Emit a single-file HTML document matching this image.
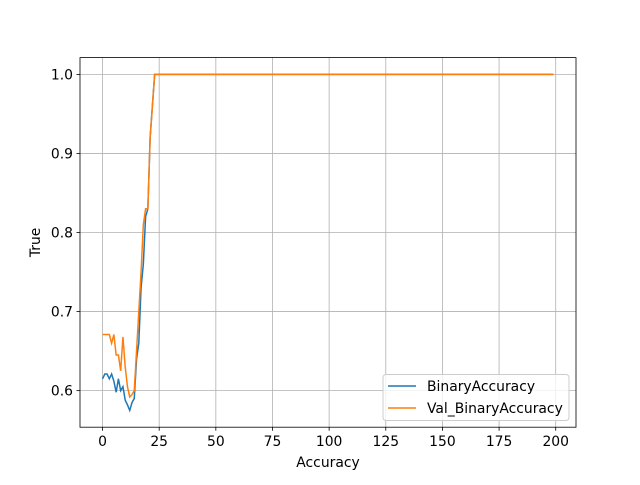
<!DOCTYPE html>
<html><head><meta charset="utf-8"><style>body{margin:0;background:#fff}svg{font-family:"DejaVu Sans","Liberation Sans",sans-serif}</style></head>
<body>
<svg id="chart" width="640" height="480"></svg>
<script>
const blueVals=[0.615,0.621,0.621,0.615,0.621,0.612,0.598,0.615,0.600,0.605,0.588,0.582,0.575,0.585,0.590,0.640,0.660,0.730,0.760,0.820,0.830,0.920,0.960,1.0];
const orangeVals=[0.671,0.671,0.671,0.671,0.660,0.671,0.645,0.645,0.625,0.668,0.630,0.605,0.592,0.595,0.600,0.650,0.700,0.750,0.810,0.830,0.830,0.920,0.960,1.0];
const totalEpochs=200;
const xTicks=[0,25,50,75,100,125,150,175,200];
const yTicks=[0.6,0.7,0.8,0.9,1.0];
const yTickLabels=["0.6","0.7","0.8","0.9","1.0"];
const seriesNames=["BinaryAccuracy","Val_BinaryAccuracy"];
const colors=["#1f77b4","#ff7f0e"];

function full(a){const r=a.slice();while(r.length<totalEpochs)r.push(1.0);return r;}
const series=[full(blueVals),full(orangeVals)];
const L=80,R=576,T=57.6,B=427.2;
const allV=series.flat();
const ymin0=Math.min(...allV),ymax0=Math.max(...allV),ym=(ymax0-ymin0)*0.05;
const xmin=-0.05*(totalEpochs-1),xmax=(totalEpochs-1)*1.05;
const X=v=>L+(v-xmin)/(xmax-xmin)*(R-L);
const Y=v=>B-(v-(ymin0-ym))/((ymax0+ym)-(ymin0-ym))*(B-T);
const svg=document.getElementById('chart');
const NS='http://www.w3.org/2000/svg';
function mk(t,a,p){const e=document.createElementNS(NS,t);for(const k in a)e.setAttribute(k,a[k]);(p||svg).appendChild(e);return e;}
xTicks.forEach(t=>{const x=X(t);
 const g=mk('line',{x1:x,x2:x,y1:T,y2:B,stroke:'#b0b0b0','stroke-width':0.8});
 
 
 mk('line',{x1:x,x2:x,y1:B,y2:B+3.5,stroke:'#000','stroke-width':0.8});
 const tx=mk('text',{x:x,y:B+19,'font-size':13.9,'text-anchor':'middle'});tx.textContent=t;
 
 });
yTicks.forEach((t,i)=>{const y=Y(t);
 const g=mk('line',{x1:L,x2:R,y1:y,y2:y,stroke:'#b0b0b0','stroke-width':0.8});
 
 
 mk('line',{x1:L-3.5,x2:L,y1:y,y2:y,stroke:'#000','stroke-width':0.8});
 const tx=mk('text',{x:L-7,y:y+5,'font-size':13.9,'text-anchor':'end'});tx.textContent=yTickLabels[i];
 
 });
series.forEach((s,i)=>{
 const p=mk('polyline',{points:s.map((v,j)=>X(j)+','+Y(v)).join(' '),fill:'none',stroke:colors[i],'stroke-width':1.5});
 
 });
const fr=mk('rect',{x:L,y:T,width:R-L,height:B-T,fill:'none',stroke:'#000','stroke-width':0.8});


const xl=mk('text',{x:(L+R)/2,y:467,'font-size':13.9,'text-anchor':'middle'});xl.textContent='Accuracy';


const yl=mk('text',{x:0,y:0,'font-size':13.9,'text-anchor':'middle',transform:`translate(40,${(T+B)/2}) rotate(-90)`});yl.textContent='True';


const lg=mk('g',{});


mk('rect',{x:383,y:374.5,width:186,height:46,rx:3,fill:'#fff','fill-opacity':0.8,stroke:'#ccc'},lg);
seriesNames.forEach((n,i)=>{const y=386+i*22;
 mk('line',{x1:388,x2:416,y1:y,y2:y,stroke:colors[i],'stroke-width':1.5},lg);
 const t=mk('text',{x:427,y:y+5,'font-size':13.9},lg);t.textContent=n;
 
 });
</script>
</body></html>
